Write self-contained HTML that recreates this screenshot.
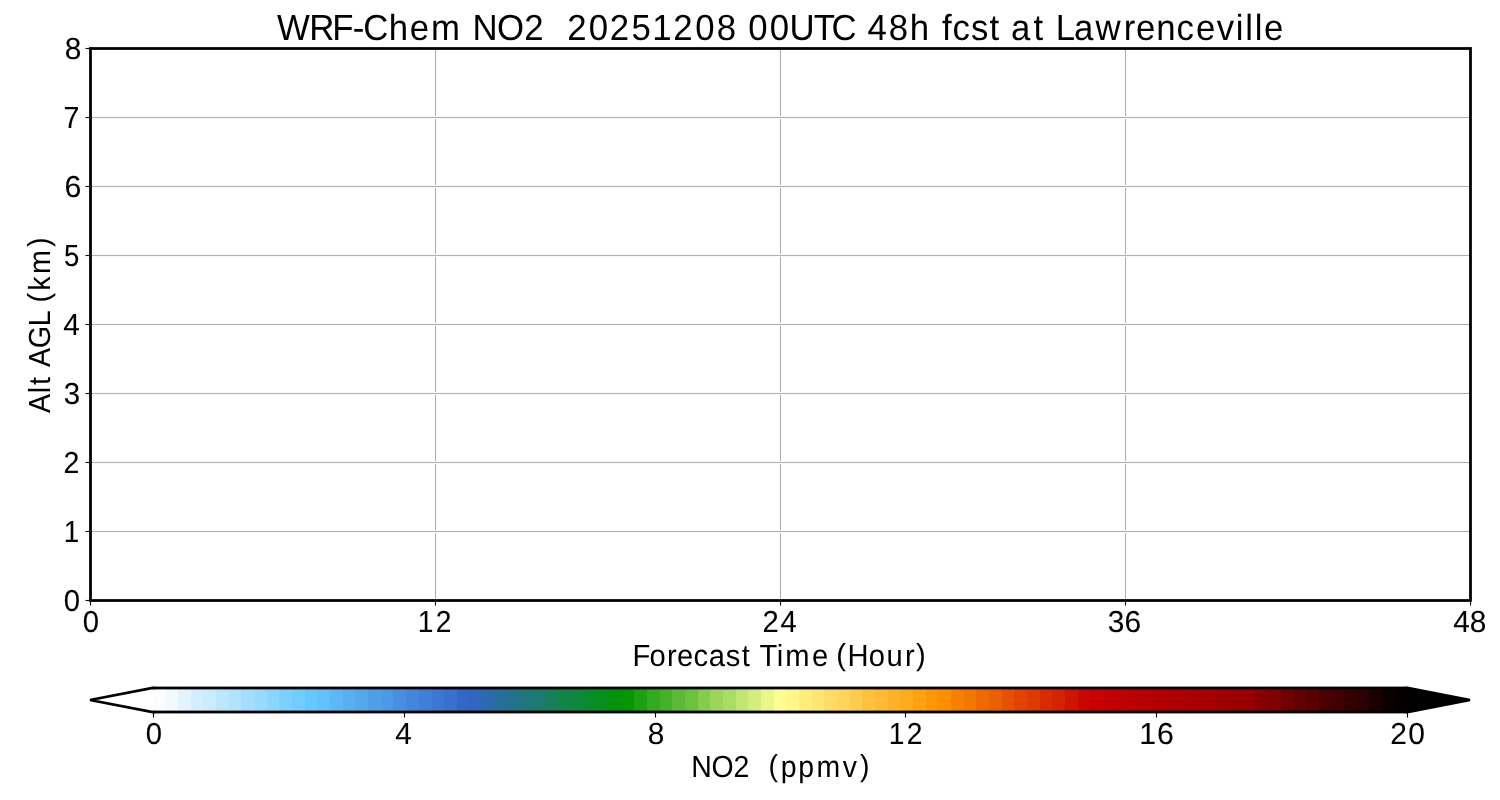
<!DOCTYPE html>
<html lang="en"><head><meta charset="utf-8"><title>WRF-Chem NO2 20251208 00UTC 48h fcst at Lawrenceville</title>
<style>
html,body{margin:0;padding:0;background:#fff;}
body{width:1500px;height:800px;overflow:hidden;font-family:"Liberation Sans",sans-serif;}
svg{display:block;position:absolute;left:0;top:0;will-change:transform;}
text{font-family:"Liberation Sans",sans-serif;fill:#000;white-space:pre;font-kerning:none;font-variant-ligatures:none;text-rendering:geometricPrecision;}
.t24{font-size:36.34px;stroke:#000;stroke-width:0.0px;}
.t20{font-size:30.52px;stroke:#000;stroke-width:0.0px;}
.tk{stroke-width:0.07px;}
.grid line{stroke:#b0b0b0;stroke-width:1.11;}
.tick line{stroke:#000;stroke-width:1.11;}
</style></head><body>
<svg width="1500" height="800" viewBox="0 0 1500 800">
<rect x="0" y="0" width="1500" height="800" fill="#ffffff"/>
<g class="grid">
<line x1="435.5" y1="48.5" x2="435.5" y2="600.5"/>
<line x1="780.5" y1="48.5" x2="780.5" y2="600.5"/>
<line x1="1125.5" y1="48.5" x2="1125.5" y2="600.5"/>
<line x1="90.5" y1="531.5" x2="1470.5" y2="531.5"/>
<line x1="90.5" y1="462.5" x2="1470.5" y2="462.5"/>
<line x1="90.5" y1="393.5" x2="1470.5" y2="393.5"/>
<line x1="90.5" y1="324.5" x2="1470.5" y2="324.5"/>
<line x1="90.5" y1="255.5" x2="1470.5" y2="255.5"/>
<line x1="90.5" y1="186.5" x2="1470.5" y2="186.5"/>
<line x1="90.5" y1="117.5" x2="1470.5" y2="117.5"/>
</g>
<g shape-rendering="crispEdges" fill="#fafafa">
<rect x="92" y="530" width="1377" height="1"/><rect x="92" y="532" width="1377" height="1"/>
<rect x="92" y="461" width="1377" height="1"/><rect x="92" y="463" width="1377" height="1"/>
<rect x="92" y="392" width="1377" height="1"/><rect x="92" y="394" width="1377" height="1"/>
<rect x="92" y="323" width="1377" height="1"/><rect x="92" y="325" width="1377" height="1"/>
<rect x="92" y="254" width="1377" height="1"/><rect x="92" y="256" width="1377" height="1"/>
<rect x="92" y="185" width="1377" height="1"/><rect x="92" y="187" width="1377" height="1"/>
<rect x="92" y="116" width="1377" height="1"/><rect x="92" y="118" width="1377" height="1"/>
</g>
<g class="tick">
<line x1="90.5" y1="600.5" x2="90.5" y2="605.5"/>
<line x1="435.5" y1="600.5" x2="435.5" y2="605.5"/>
<line x1="780.5" y1="600.5" x2="780.5" y2="605.5"/>
<line x1="1125.5" y1="600.5" x2="1125.5" y2="605.5"/>
<line x1="1470.5" y1="600.5" x2="1470.5" y2="605.5"/>
<line x1="85.5" y1="600.5" x2="90.5" y2="600.5"/>
<line x1="85.5" y1="531.5" x2="90.5" y2="531.5"/>
<line x1="85.5" y1="462.5" x2="90.5" y2="462.5"/>
<line x1="85.5" y1="393.5" x2="90.5" y2="393.5"/>
<line x1="85.5" y1="324.5" x2="90.5" y2="324.5"/>
<line x1="85.5" y1="255.5" x2="90.5" y2="255.5"/>
<line x1="85.5" y1="186.5" x2="90.5" y2="186.5"/>
<line x1="85.5" y1="117.5" x2="90.5" y2="117.5"/>
<line x1="85.5" y1="48.5" x2="90.5" y2="48.5"/>
</g>
<rect x="90.5" y="48.5" width="1380" height="552" fill="none" stroke="#000" stroke-width="2.78"/>
<g shape-rendering="crispEdges">
<rect x="152.73" y="688" width="12.27" height="24" fill="#fafdff"/>
<rect x="165" y="688" width="13" height="24" fill="#f0faff"/>
<rect x="178" y="688" width="13" height="24" fill="#e2f5ff"/>
<rect x="191" y="688" width="12" height="24" fill="#d3efff"/>
<rect x="203" y="688" width="13" height="24" fill="#caecff"/>
<rect x="216" y="688" width="13" height="24" fill="#bbe7ff"/>
<rect x="229" y="688" width="12" height="24" fill="#b1e3ff"/>
<rect x="241" y="688" width="13" height="24" fill="#a3deff"/>
<rect x="254" y="688" width="13" height="24" fill="#99dbff"/>
<rect x="267" y="688" width="12" height="24" fill="#8ad6ff"/>
<rect x="279" y="688" width="13" height="24" fill="#7cd0ff"/>
<rect x="292" y="688" width="13" height="24" fill="#72cdff"/>
<rect x="305" y="688" width="12" height="24" fill="#64c8ff"/>
<rect x="317" y="688" width="13" height="24" fill="#61c1fb"/>
<rect x="330" y="688" width="13" height="24" fill="#5cb8f6"/>
<rect x="343" y="688" width="12" height="24" fill="#57aff1"/>
<rect x="355" y="688" width="13" height="24" fill="#54a8ee"/>
<rect x="368" y="688" width="13" height="24" fill="#4f9fe8"/>
<rect x="381" y="688" width="12" height="24" fill="#4c99e5"/>
<rect x="393" y="688" width="13" height="24" fill="#488fe0"/>
<rect x="406" y="688" width="13" height="24" fill="#4386db"/>
<rect x="419" y="688" width="13" height="24" fill="#407fd7"/>
<rect x="432" y="688" width="12" height="24" fill="#3b76d2"/>
<rect x="444" y="688" width="13" height="24" fill="#3870ce"/>
<rect x="457" y="688" width="13" height="24" fill="#3366c9"/>
<rect x="470" y="688" width="12" height="24" fill="#3066c0"/>
<rect x="482" y="688" width="13" height="24" fill="#2b6bad"/>
<rect x="495" y="688" width="13" height="24" fill="#276f9b"/>
<rect x="508" y="688" width="12" height="24" fill="#23738e"/>
<rect x="520" y="688" width="13" height="24" fill="#1f777b"/>
<rect x="533" y="688" width="13" height="24" fill="#1c7a6f"/>
<rect x="546" y="688" width="12" height="24" fill="#177f5c"/>
<rect x="558" y="688" width="13" height="24" fill="#128449"/>
<rect x="571" y="688" width="13" height="24" fill="#0f873c"/>
<rect x="584" y="688" width="12" height="24" fill="#0a8c2a"/>
<rect x="596" y="688" width="13" height="24" fill="#078f1d"/>
<rect x="609" y="688" width="13" height="24" fill="#03930a"/>
<rect x="622" y="688" width="12" height="24" fill="#039702"/>
<rect x="634" y="688" width="13" height="24" fill="#1ba110"/>
<rect x="647" y="688" width="13" height="24" fill="#33ab1e"/>
<rect x="660" y="688" width="12" height="24" fill="#43b227"/>
<rect x="672" y="688" width="13" height="24" fill="#5bbb36"/>
<rect x="685" y="688" width="13" height="24" fill="#6bc23f"/>
<rect x="698" y="688" width="12" height="24" fill="#83cc4d"/>
<rect x="710" y="688" width="13" height="24" fill="#9bd65b"/>
<rect x="723" y="688" width="13" height="24" fill="#abdc65"/>
<rect x="736" y="688" width="12" height="24" fill="#c3e673"/>
<rect x="748" y="688" width="13" height="24" fill="#d3ed7c"/>
<rect x="761" y="688" width="13" height="24" fill="#ebf78a"/>
<rect x="774" y="688" width="12" height="24" fill="#fffd94"/>
<rect x="786" y="688" width="13" height="24" fill="#fff78a"/>
<rect x="799" y="688" width="13" height="24" fill="#ffed7c"/>
<rect x="812" y="688" width="12" height="24" fill="#ffe673"/>
<rect x="824" y="688" width="13" height="24" fill="#ffdc65"/>
<rect x="837" y="688" width="13" height="24" fill="#ffd65b"/>
<rect x="850" y="688" width="12" height="24" fill="#ffcc4d"/>
<rect x="862" y="688" width="13" height="24" fill="#ffc23f"/>
<rect x="875" y="688" width="13" height="24" fill="#ffbb36"/>
<rect x="888" y="688" width="12" height="24" fill="#ffb227"/>
<rect x="900" y="688" width="13" height="24" fill="#ffab1e"/>
<rect x="913" y="688" width="13" height="24" fill="#ffa110"/>
<rect x="926" y="688" width="12" height="24" fill="#ff9702"/>
<rect x="938" y="688" width="13" height="24" fill="#fc8e00"/>
<rect x="951" y="688" width="13" height="24" fill="#f78000"/>
<rect x="964" y="688" width="12" height="24" fill="#f47700"/>
<rect x="976" y="688" width="13" height="24" fill="#ee6900"/>
<rect x="989" y="688" width="13" height="24" fill="#eb5f00"/>
<rect x="1002" y="688" width="12" height="24" fill="#e65100"/>
<rect x="1014" y="688" width="13" height="24" fill="#e14300"/>
<rect x="1027" y="688" width="13" height="24" fill="#dd3a00"/>
<rect x="1040" y="688" width="12" height="24" fill="#d82c00"/>
<rect x="1052" y="688" width="13" height="24" fill="#d52200"/>
<rect x="1065" y="688" width="13" height="24" fill="#cf1400"/>
<rect x="1078" y="688" width="12" height="24" fill="#ca0600"/>
<rect x="1090" y="688" width="13" height="24" fill="#c70000"/>
<rect x="1103" y="688" width="13" height="24" fill="#c20000"/>
<rect x="1116" y="688" width="12" height="24" fill="#bf0000"/>
<rect x="1128" y="688" width="13" height="24" fill="#ba0000"/>
<rect x="1141" y="688" width="13" height="24" fill="#b70000"/>
<rect x="1154" y="688" width="13" height="24" fill="#b20000"/>
<rect x="1167" y="688" width="12" height="24" fill="#ae0000"/>
<rect x="1179" y="688" width="13" height="24" fill="#ab0000"/>
<rect x="1192" y="688" width="13" height="24" fill="#a60000"/>
<rect x="1205" y="688" width="12" height="24" fill="#a30000"/>
<rect x="1217" y="688" width="13" height="24" fill="#9e0000"/>
<rect x="1230" y="688" width="13" height="24" fill="#990000"/>
<rect x="1243" y="688" width="12" height="24" fill="#960000"/>
<rect x="1255" y="688" width="13" height="24" fill="#880000"/>
<rect x="1268" y="688" width="13" height="24" fill="#7f0000"/>
<rect x="1281" y="688" width="12" height="24" fill="#710000"/>
<rect x="1293" y="688" width="13" height="24" fill="#630000"/>
<rect x="1306" y="688" width="13" height="24" fill="#590000"/>
<rect x="1319" y="688" width="12" height="24" fill="#4b0000"/>
<rect x="1331" y="688" width="13" height="24" fill="#420000"/>
<rect x="1344" y="688" width="13" height="24" fill="#340000"/>
<rect x="1357" y="688" width="12" height="24" fill="#2a0000"/>
<rect x="1369" y="688" width="13" height="24" fill="#1c0000"/>
<rect x="1382" y="688" width="13" height="24" fill="#0e0000"/>
<rect x="1395" y="688" width="12" height="24" fill="#050000"/>
<rect x="1407" y="688" width="0.27" height="24" fill="#000000"/>
</g>
<path d="M152.73 688 L90 700 L152.73 712 Z" fill="#ffffff"/>
<path d="M1406 688 L1407.27 688 L1470 700 L1407.27 712 L1406 712 Z" fill="#000000"/>
<path d="M156 688 L152.73 688 L90 700 L152.73 712 L156 712" fill="none" stroke="#000" stroke-width="2.78" stroke-linejoin="miter" stroke-miterlimit="4" stroke-linecap="butt"/>
<path d="M1404 688 L1407.27 688 L1470 700 L1407.27 712 L1404 712" fill="none" stroke="#000" stroke-width="2.78" stroke-linejoin="miter" stroke-miterlimit="4" stroke-linecap="butt"/>
<g shape-rendering="crispEdges" fill="#000">
<rect x="156" y="687" width="1248" height="2"/><rect x="156" y="711" width="1248" height="2"/>
<rect x="156" y="686" width="1248" height="1" fill-opacity="0.39"/><rect x="156" y="689" width="1248" height="1" fill-opacity="0.39"/>
<rect x="156" y="710" width="1248" height="1" fill-opacity="0.39"/><rect x="156" y="713" width="1248" height="1" fill-opacity="0.39"/>
</g>
<g class="tick">
<line x1="153.5" y1="712" x2="153.5" y2="717.5"/>
<line x1="404.5" y1="712" x2="404.5" y2="717.5"/>
<line x1="655.5" y1="712" x2="655.5" y2="717.5"/>
<line x1="905.5" y1="712" x2="905.5" y2="717.5"/>
<line x1="1156.5" y1="712" x2="1156.5" y2="717.5"/>
<line x1="1407.5" y1="712" x2="1407.5" y2="717.5"/>
</g>
<text class="t24" transform="scale(0.9570 1)" y="40" x="289.53 323.23 347.08 368.57 379.55 406.23 428.29 450.38 480.65 493.67 519.33 547.9 568.11 578.21 592.84 615.3 637.25 659.75 681.68 703.6 726.59 749.06 769.27 781.97 804.44 824.93 850.3 868.77 895.01 906.44 928.79 950.65 970.86 984.24 995.35 1014.6 1034.02 1044.11 1056.55 1080 1090.09 1103.09 1122.22 1144.67 1174.37 1186.93 1208.29 1229.42 1249.63 1271.51 1291.2 1301.1 1311.03 1320.68">WRF-Chem NO2  20251208 00UTC 48h fcst at Lawrenceville</text>
<text class="t20 tk" transform="scale(0.9595 1)" y="632" x="86.35">0</text>
<text class="t20 tk" transform="scale(0.9237 1)" y="632" x="452.3 471.66">12</text>
<text class="t20 tk" transform="scale(0.9561 1)" y="632" x="797.42 816.34">24</text>
<text class="t20 tk" transform="scale(0.9805 1)" y="632" x="1129.78 1146.92">36</text>
<text class="t20 tk" transform="scale(0.9763 1)" y="632" x="1488.59 1505.39">48</text>
<text class="t20 tk" transform="scale(0.9595 1)" y="611" x="66.55">0</text>
<text class="t20 tk" transform="scale(0.9118 1)" y="542" x="70.06">1</text>
<text class="t20 tk" transform="scale(0.9349 1)" y="473" x="67.99">2</text>
<text class="t20 tk" transform="scale(0.9674 1)" y="404" x="66.03">3</text>
<text class="t20 tk" transform="scale(0.9752 1)" y="335" x="64.93">4</text>
<text class="t20 tk" transform="scale(0.9000 1)" y="266" x="70.99">5</text>
<text class="t20 tk" transform="scale(0.9940 1)" y="197" x="64.85">6</text>
<text class="t20 tk" transform="scale(0.9369 1)" y="128" x="67.81">7</text>
<text class="t20 tk" transform="scale(0.9775 1)" y="59" x="66.2">8</text>
<text class="t20" transform="scale(0.9550 1)" y="666 666 666 666 666 666 666 666 666 666 666 666 666 666 664.9 666 666 666 666 664.9" x="662.22 680.04 698.34 708.81 726.14 742.16 760.02 776.78 785.26 795.39 813.36 822.35 850.17 867.14 875.72 887.39 909.82 928.17 947.55 959.11">Forecast Time (Hour)</text>
<text class="t20 tk" transform="scale(0.9595 1)" y="744" x="152.02">0</text>
<text class="t20 tk" transform="scale(0.9752 1)" y="744" x="405.36">4</text>
<text class="t20 tk" transform="scale(0.9775 1)" y="744" x="662.64">8</text>
<text class="t20 tk" transform="scale(0.9237 1)" y="744" x="962.22 981.59">12</text>
<text class="t20 tk" transform="scale(0.9910 1)" y="744" x="1149.51 1167.48">16</text>
<text class="t20 tk" transform="scale(0.9826 1)" y="744" x="1414.83 1433.15">20</text>
<text class="t20" transform="scale(0.9327 1)" y="777 777 777 777 777 775.9 777 777 777 777 775.9" x="741.07 762.75 786.5 803.47 811.95 823.89 837.08 855.84 875.54 903.68 922.1">NO2  (ppmv)</text>
<text class="t20" transform="translate(50 500) rotate(-90) scale(0.9396 1)" y="0 0 0 0 0 0 0 0 -1.1 0 0 -1.1" x="92.53 113.67 122.29 130.77 141.55 161.38 185 201.98 210.11 222.8 240.58 269.3">Alt AGL (km)</text>
</svg>
</body></html>
